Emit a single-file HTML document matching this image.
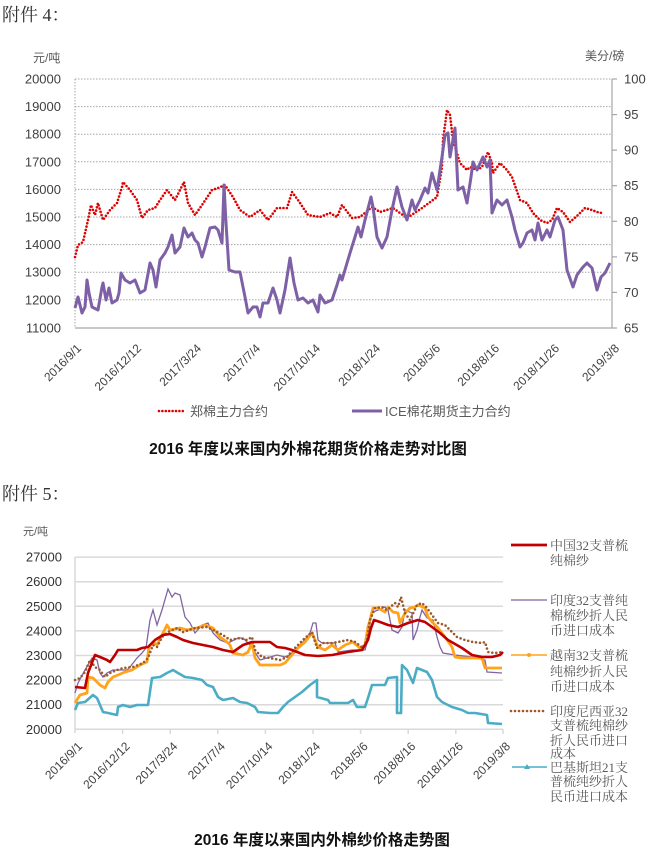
<!DOCTYPE html>
<html><head><meta charset="utf-8"><style>
html,body{margin:0;padding:0;background:#fff;}
svg{display:block;}
.t{font-family:"Liberation Sans","Noto Sans CJK SC",sans-serif;}
.s{font-family:"Liberation Serif","Noto Serif CJK SC",serif;}
</style></head><body>
<svg width="649" height="850" viewBox="0 0 649 850" xmlns="http://www.w3.org/2000/svg">
<rect width="649" height="850" fill="#fff"/>
<!-- ===== Chart 4 ===== -->
<text x="2" y="21" class="s" font-size="18" fill="#333">附件 4：</text>
<text x="33" y="62" class="t" font-size="12" fill="#595959">元/吨</text>
<text x="585" y="60" class="t" font-size="12" fill="#595959">美分/磅</text>
<g stroke="#a6a6a6" stroke-width="1" stroke-dasharray="1.5 1.5" fill="none">
<line x1="75" y1="79" x2="612" y2="79"/>
<line x1="75" y1="106.6" x2="612" y2="106.6"/>
<line x1="75" y1="134.2" x2="612" y2="134.2"/>
<line x1="75" y1="161.8" x2="612" y2="161.8"/>
<line x1="75" y1="189.4" x2="612" y2="189.4"/>
<line x1="75" y1="217" x2="612" y2="217"/>
<line x1="75" y1="244.6" x2="612" y2="244.6"/>
<line x1="75" y1="272.2" x2="612" y2="272.2"/>
<line x1="75" y1="299.8" x2="612" y2="299.8"/>
<line x1="75" y1="79" x2="75" y2="328"/>
</g>
<g stroke="#a6a6a6" stroke-width="1.2" fill="none">
<line x1="75" y1="328" x2="612" y2="328"/>
<line x1="612" y1="79" x2="612" y2="328"/>
<line x1="612" y1="79" x2="617" y2="79"/>
<line x1="612" y1="114.6" x2="617" y2="114.6"/>
<line x1="612" y1="150.1" x2="617" y2="150.1"/>
<line x1="612" y1="185.7" x2="617" y2="185.7"/>
<line x1="612" y1="221.3" x2="617" y2="221.3"/>
<line x1="612" y1="256.9" x2="617" y2="256.9"/>
<line x1="612" y1="292.4" x2="617" y2="292.4"/>
<line x1="612" y1="328" x2="617" y2="328"/>
</g>
<g class="t" font-size="13" fill="#404040" text-anchor="end">
<text x="61" y="83.5">20000</text>
<text x="61" y="111">19000</text>
<text x="61" y="138.7">18000</text>
<text x="61" y="166.3">17000</text>
<text x="61" y="193.9">16000</text>
<text x="61" y="221.5">15000</text>
<text x="61" y="249.1">14000</text>
<text x="61" y="276.7">13000</text>
<text x="61" y="304.3">12000</text>
<text x="61" y="332.5">11000</text>
</g>
<g class="t" font-size="13" fill="#404040">
<text x="624" y="83.5">100</text>
<text x="624" y="119">95</text>
<text x="624" y="154.6">90</text>
<text x="624" y="190.2">85</text>
<text x="624" y="225.8">80</text>
<text x="624" y="261.4">75</text>
<text x="624" y="296.9">70</text>
<text x="624" y="332.5">65</text>
</g>
<g class="t" font-size="12" fill="#404040" text-anchor="end">
<text transform="translate(82,349) rotate(-45)">2016/9/1</text>
<text transform="translate(142,349) rotate(-45)">2016/12/12</text>
<text transform="translate(202,349) rotate(-45)">2017/3/24</text>
<text transform="translate(261,349) rotate(-45)">2017/7/4</text>
<text transform="translate(321,349) rotate(-45)">2017/10/14</text>
<text transform="translate(381,349) rotate(-45)">2018/1/24</text>
<text transform="translate(441,349) rotate(-45)">2018/5/6</text>
<text transform="translate(500,349) rotate(-45)">2018/8/16</text>
<text transform="translate(560,349) rotate(-45)">2018/11/26</text>
<text transform="translate(620,349) rotate(-45)">2019/3/8</text>
</g>
<polyline fill="none" stroke="#e00000" stroke-width="2.6" stroke-linecap="round" stroke-dasharray="0 3.4" points="75,257 78,245 83,242 88,220 91,205 95,215 98,203 103,220 110,210 117,203 122,187 123,182 130,190 137,200 142,218 148,210 155,208 160,200 167,190 175,200 184,182 188,203 195,215 202,205 212,190 218,188 225,185 233,197 240,210 250,217 260,210 268,220 277,208 287,208 292,192 298,200 308,215 320,217 330,213 337,217 342,205 352,218 360,217 372,207 380,212 393,208 407,218 422,208 437,197 442,167 443,140 447,110 450,115 453,140 460,163 467,170 470,167 477,170 482,167 488,152 492,163 493,173 500,163 507,170 512,177 520,200 527,203 533,213 540,220 547,223 552,220 557,208 563,212 570,222 578,215 585,208 592,210 597,212 602,213"/>
<polyline fill="none" stroke="#7d60a6" stroke-width="3" stroke-linejoin="round" points="75,308 78,297 82,313 85,307 87,280 89,293 92,307 98,310 102,287 103,283 106,300 109,288 112,303 117,300 119,293 121,273 125,280 130,283 135,280 140,293 145,290 150,263 153,270 156,287 160,260 165,253 168,247 172,235 175,253 180,247 184,228 188,237 192,233 195,240 198,243 202,257 205,247 210,228 215,227 218,230 222,243 224,185 226,223 229,270 235,272 240,272 245,297 248,313 253,307 257,307 260,317 263,303 268,303 273,288 277,300 280,313 285,290 290,258 294,283 298,300 303,298 308,303 313,300 318,312 320,295 325,303 332,300 337,285 340,275 342,280 347,263 350,253 355,237 358,227 361,237 365,220 371,197 373,207 377,237 382,248 387,237 392,210 397,187 402,207 407,220 412,200 415,210 420,200 425,188 428,193 432,173 437,190 442,157 445,135 448,133 450,157 455,128 458,190 463,187 467,203 471,177 473,162 477,170 483,157 487,167 490,160 492,213 497,200 502,205 507,200 512,217 515,230 520,247 523,243 527,233 532,230 535,240 538,223 542,240 547,230 550,237 555,220 558,217 563,230 567,270 573,287 577,275 583,267 587,263 592,268 597,290 601,277 605,273 610,263"/>
<!-- legend top -->
<line x1="159" y1="411" x2="186" y2="411" stroke="#e00000" stroke-width="2.6" stroke-linecap="round" stroke-dasharray="0 3.4"/>
<text x="190" y="416" class="t" font-size="13" fill="#595959">郑棉主力合约</text>
<line x1="352" y1="411" x2="382" y2="411" stroke="#7d60a6" stroke-width="3"/>
<text x="385" y="416" class="t" font-size="13" fill="#595959">ICE棉花期货主力合约</text>
<text x="308" y="454" class="t" font-size="15.5" font-weight="bold" fill="#111" text-anchor="middle">2016 年度以来国内外棉花期货价格走势对比图</text>

<!-- ===== Chart 5 ===== -->
<text x="2" y="500" class="s" font-size="18" fill="#333">附件 5：</text>
<text x="23" y="535" class="t" font-size="11" fill="#595959">元/吨</text>
<g stroke="#d9d9d9" stroke-width="1.5" fill="none">
<line x1="75" y1="557.1" x2="503" y2="557.1"/>
<line x1="75" y1="581.7" x2="503" y2="581.7"/>
<line x1="75" y1="606.3" x2="503" y2="606.3"/>
<line x1="75" y1="630.9" x2="503" y2="630.9"/>
<line x1="75" y1="655.5" x2="503" y2="655.5"/>
<line x1="75" y1="680.1" x2="503" y2="680.1"/>
<line x1="75" y1="704.7" x2="503" y2="704.7"/>
<line x1="75" y1="729.3" x2="503" y2="729.3"/>
<line x1="75" y1="557" x2="75" y2="733"/>
<line x1="122.6" y1="729" x2="122.6" y2="734"/>
<line x1="170.2" y1="729" x2="170.2" y2="734"/>
<line x1="217.8" y1="729" x2="217.8" y2="734"/>
<line x1="265.4" y1="729" x2="265.4" y2="734"/>
<line x1="313" y1="729" x2="313" y2="734"/>
<line x1="360.6" y1="729" x2="360.6" y2="734"/>
<line x1="408.2" y1="729" x2="408.2" y2="734"/>
<line x1="455.8" y1="729" x2="455.8" y2="734"/>
<line x1="503" y1="729" x2="503" y2="734"/>
</g>
<g class="t" font-size="13" fill="#333" text-anchor="end">
<text x="62" y="561.6">27000</text>
<text x="62" y="586.2">26000</text>
<text x="62" y="610.8">25000</text>
<text x="62" y="635.4">24000</text>
<text x="62" y="660">23000</text>
<text x="62" y="684.6">22000</text>
<text x="62" y="709.2">21000</text>
<text x="62" y="733.8">20000</text>
</g>
<g class="t" font-size="12" fill="#404040" text-anchor="end">
<text transform="translate(83,747) rotate(-45)">2016/9/1</text>
<text transform="translate(130.6,747) rotate(-45)">2016/12/12</text>
<text transform="translate(178.2,747) rotate(-45)">2017/3/24</text>
<text transform="translate(225.8,747) rotate(-45)">2017/7/4</text>
<text transform="translate(273.4,747) rotate(-45)">2017/10/14</text>
<text transform="translate(321,747) rotate(-45)">2018/1/24</text>
<text transform="translate(368.6,747) rotate(-45)">2018/5/6</text>
<text transform="translate(416.2,747) rotate(-45)">2018/8/16</text>
<text transform="translate(463.8,747) rotate(-45)">2018/11/26</text>
<text transform="translate(511,747) rotate(-45)">2019/3/8</text>
</g>
<!-- Pakistan cyan -->
<polyline fill="none" stroke="#4bacc6" stroke-width="2.6" stroke-linejoin="round" points="75,710 78,703 85,702 93,695 97,698 100,705 103,712 108,713 117,715 118,707 123,705 130,707 137,705 148,705 152,678 160,677 167,673 173,670 178,673 185,677 193,678 202,680 207,685 213,687 218,697 223,700 233,698 240,702 247,703 255,707 258,712 270,713 278,713 283,707 288,702 295,697 302,692 310,685 317,680 317,697 328,700 330,703 348,703 353,700 357,707 365,707 368,698 372,685 385,685 388,678 397,677 397,713 401,713 402,665 407,670 413,683 417,668 427,672 432,680 437,697 442,702 452,707 462,710 468,713 475,713 487,715 488,723 502,724"/>
<!-- India purple -->
<polyline fill="none" stroke="#8064a2" stroke-width="1.3" points="75,693 78,683 85,670 92,658 97,660 100,673 103,677 107,673 113,670 127,670 130,667 137,658 142,653 146,648 150,620 153,610 157,625 162,610 168,589 172,597 175,593 180,595 185,617 190,623 195,633 202,625 208,623 213,633 220,640 228,643 238,638 243,638 250,645 260,660 267,658 277,655 285,657 290,655 298,647 305,640 310,633 313,623 316,623 318,640 322,643 335,643 338,652 352,650 365,650 368,640 371,613 385,607 388,610 392,630 398,633 402,627 405,610 412,613 413,640 417,630 420,617 422,610 427,618 433,620 437,637 440,647 443,653 455,655 472,657 485,660 487,672 502,673"/>
<!-- Vietnam orange -->
<polyline fill="none" stroke="#ffa31a" stroke-width="2.8" stroke-linejoin="round" points="75,703 80,695 87,693 88,677 93,678 100,685 105,688 108,682 113,677 118,675 125,672 132,670 140,665 147,662 149,647 153,642 157,645 162,635 167,625 170,630 180,628 187,630 197,628 205,625 213,628 220,637 227,642 230,645 233,653 243,655 248,652 252,643 255,658 260,665 280,665 285,663 292,655 298,648 305,642 312,633 318,647 325,650 332,645 338,650 345,645 353,642 360,648 365,645 368,627 370,620 373,608 378,608 385,612 388,607 393,612 398,613 400,623 405,613 410,608 415,607 418,605 425,608 428,617 433,623 438,628 445,637 452,647 455,657 462,658 482,658 485,668 502,668"/>
<!-- Indonesia brown dotted -->
<polyline fill="none" stroke="#9c5a2a" stroke-width="2.6" stroke-linecap="round" stroke-dasharray="0 4" points="75,680 80,678 85,672 90,660 95,667 100,670 105,677 110,673 117,670 123,668 133,667 143,663 148,658 153,645 157,647 162,637 168,632 177,628 183,632 195,628 207,627 217,632 223,635 230,640 240,638 247,640 252,637 255,650 262,657 270,658 280,660 287,657 293,650 298,645 305,638 312,632 317,648 323,643 332,643 338,642 348,640 355,642 363,648 367,640 370,620 375,608 382,607 387,610 395,603 398,607 401,597 405,613 410,620 417,605 422,603 427,608 432,615 438,623 445,625 452,632 457,637 465,640 473,642 482,643 485,642 488,652 495,653 502,652"/>
<!-- China red -->
<polyline fill="none" stroke="#c00000" stroke-width="2.6" stroke-linejoin="round" points="75,687 85,688 88,673 93,660 95,655 100,657 107,660 110,662 115,655 118,650 137,650 142,648 148,647 155,640 163,635 170,634 177,637 183,640 193,643 203,645 213,647 223,650 233,652 243,645 252,642 270,642 277,647 285,648 292,650 305,655 318,656 332,655 348,652 362,650 368,640 371,628 374,620 380,622 388,625 398,627 408,623 418,620 425,622 432,627 440,633 448,640 462,648 472,655 482,657 492,657 500,655 503,652"/>
<!-- legend bottom -->
<line x1="511" y1="545" x2="547" y2="545" stroke="#c00000" stroke-width="2.8"/>
<line x1="511" y1="600" x2="547" y2="600" stroke="#8064a2" stroke-width="1.3"/>
<line x1="511" y1="655" x2="547" y2="655" stroke="#ffa31a" stroke-width="1.5"/>
<circle cx="529" cy="655" r="2" fill="#ffa31a"/>
<line x1="511" y1="711" x2="547" y2="711" stroke="#9c5a2a" stroke-width="2.6" stroke-linecap="round" stroke-dasharray="0 4"/>
<line x1="512" y1="767" x2="547" y2="767" stroke="#4bacc6" stroke-width="1.5"/>
<path d="M527 764 L530 769 L524 769 Z" fill="#4bacc6"/>
<g class="s" font-size="13" fill="#595959">
<text x="550" y="550">中国32支普梳</text>
<text x="550" y="565">纯棉纱</text>
<text x="550" y="605">印度32支普纯</text>
<text x="550" y="620">棉梳纱折人民</text>
<text x="550" y="635">币进口成本</text>
<text x="550" y="660">越南32支普梳</text>
<text x="550" y="676">纯棉纱折人民</text>
<text x="550" y="691">币进口成本</text>
<text x="550" y="716">印度尼西亚32</text>
<text x="550" y="730">支普梳纯棉纱</text>
<text x="550" y="745">折人民币进口</text>
<text x="550" y="758">成本</text>
<text x="550" y="772">巴基斯坦21支</text>
<text x="550" y="786">普梳纯纱折人</text>
<text x="550" y="801">民币进口成本</text>
</g>
<text x="322" y="845" class="t" font-size="15.5" font-weight="bold" fill="#111" text-anchor="middle">2016 年度以来国内外棉纱价格走势图</text>
</svg>
</body></html>
